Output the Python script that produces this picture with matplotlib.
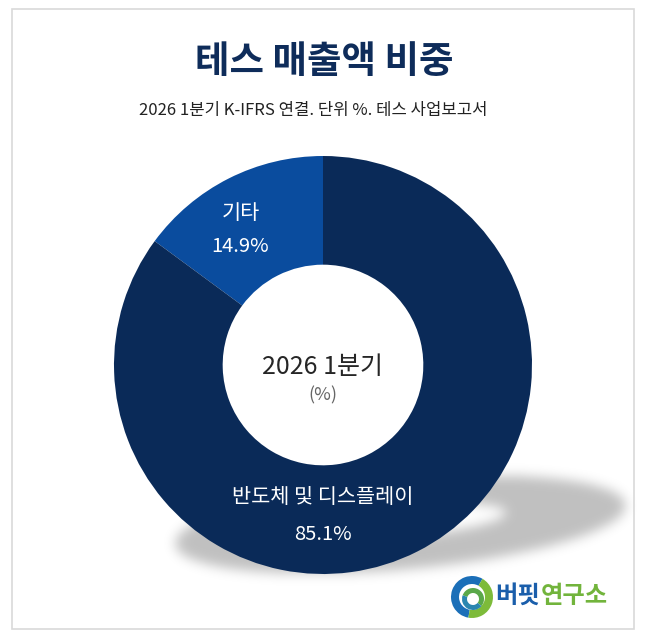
import numpy as np
import matplotlib
matplotlib.use("Agg")
import matplotlib.pyplot as plt
from matplotlib.patches import Rectangle, Wedge

plt.rcParams['font.family'] = ['Noto Sans CJK KR', 'DejaVu Sans']

# ---- data ----
categories = ['기타', '반도체 및 디스플레이']
values = [14.9, 85.1]
colors = ['#0a4c9e', '#0a2a58']
title = '테스 매출액 비중'
subtitle = '2026 1분기 K-IFRS 연결. 단위 %. 테스 사업보고서'
center_main = '2026 1분기'
center_sub = '(%)'

W, H = 650, 642
fig = plt.figure(figsize=(W / 100, H / 100), dpi=100)
fig.patch.set_facecolor('white')

# background axes in pixel coordinates
bg = fig.add_axes([0, 0, 1, 1])
bg.set_xlim(0, W)
bg.set_ylim(H, 0)
bg.axis('off')

# soft elliptical ring shadow under the donut
yy, xx = np.mgrid[0:H, 0:W].astype(float)
cx, cy, ang = 400.0, 524.0, np.deg2rad(-5.0)
dx, dy = xx - cx, yy - cy
u = dx * np.cos(ang) + dy * np.sin(ang)
v = -dx * np.sin(ang) + dy * np.cos(ang)
outer = (u / 226.0) ** 2 + (v / 45.0) ** 2 <= 1
inner = ((u - 10) / 96.0) ** 2 + ((v + 3) / 15.0) ** 2 <= 1
mask = (outer & ~inner).astype(float)
sig = 6.0
k = np.exp(-0.5 * (np.arange(-20, 21) / sig) ** 2)
k /= k.sum()
mask = np.apply_along_axis(lambda m: np.convolve(m, k, mode='same'), 0, mask)
mask = np.apply_along_axis(lambda m: np.convolve(m, k, mode='same'), 1, mask)
rgba = np.zeros((H, W, 4))
rgba[..., 3] = mask * 0.25
bg.imshow(rgba, extent=(0, W, H, 0), interpolation='bilinear', zorder=1)

# frame border
bg.add_patch(Rectangle((12, 9), 622, 620, fill=False, edgecolor='#d9d9d9', lw=1.2, zorder=3))

# title & subtitle
bg.text(324, 62, title, ha='center', va='center', fontsize=27, fontweight='bold',
        color='#0e2c5a', zorder=5)
bg.text(313, 110, subtitle, ha='center', va='center', fontsize=12, color='#222222', zorder=5)

# logo icon
lx, ly, lr = 472, 597, 21
bg.add_patch(Wedge((lx, ly), lr, 100, 300, width=8, facecolor='#1b6fb8', edgecolor='none', zorder=5))
bg.add_patch(Wedge((lx, ly), lr, 300, 460, width=8, facecolor='#7dbb3a', edgecolor='none', zorder=5))
bg.add_patch(Wedge((lx + 1, ly + 2), 11, 200, 40, width=5, facecolor='#5aa84a', edgecolor='none', zorder=5))
bg.add_patch(Wedge((lx + 1, ly + 2), 11, 40, 200, width=5, facecolor='#2a86b0', edgecolor='none', zorder=5))
bg.text(495, 596, '버핏', ha='left', va='center', fontsize=17.5, fontweight='bold',
        color='#1a5eab', zorder=5)
bg.text(541, 596, '연구소', ha='left', va='center', fontsize=17.5, fontweight='bold',
        color='#72b43c', zorder=5)

# donut axes: center (323,365), radius 209 px
R = 209
ccx, ccy = 323, 365
ax = fig.add_axes([(ccx - R) / W, (H - ccy - R) / H, 2 * R / W, 2 * R / H])
ax.set_zorder(2)
ax.patch.set_alpha(0)
wedges, _ = ax.pie(values, colors=colors, startangle=90, counterclock=True,
                   radius=1, wedgeprops=dict(width=0.52, edgecolor='none'))
ax.set_xlim(-1, 1)
ax.set_ylim(-1, 1)
ax.set_aspect('equal')
ax.axis('off')

# slice labels
label_pos = [(-0.395, 0.727, 0.565), (0.0, -0.632, -0.813)]
for cat, val, (x, y1, y2) in zip(categories, values, label_pos):
    ax.text(x, y1, cat, ha='center', va='center', fontsize=15, color='white')
    ax.text(x, y2, f'{val:.1f}%', ha='center', va='center', fontsize=14.5, color='white')

ax.text(0, -0.01, center_main, ha='center', va='center', fontsize=18, color='#262626')
ax.text(0, -0.145, center_sub, ha='center', va='center', fontsize=13, color='#666666')

fig.savefig('out.png', dpi=100, facecolor='white')
